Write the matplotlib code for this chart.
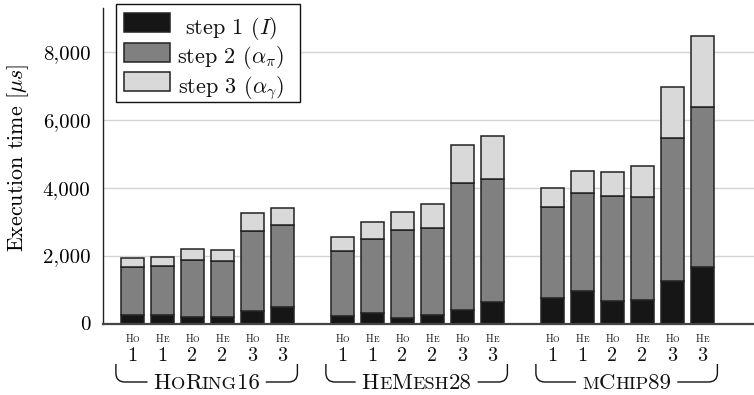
import matplotlib
matplotlib.use("Agg")
import matplotlib.pyplot as plt
import numpy as np
from matplotlib.path import Path
from matplotlib.patches import PathPatch, Rectangle
from matplotlib.ticker import FuncFormatter, MultipleLocator
from matplotlib import transforms

plt.rcParams['font.family'] = ['cmr10', 'DejaVu Serif']
plt.rcParams['mathtext.fontset'] = 'cm'
plt.rcParams['axes.formatter.use_mathtext'] = True

# ---- data ----
groups = ["HoRing16", "HeMesh28", "mChip89"]
bar_kinds = ["Ho", "He", "Ho", "He", "Ho", "He"]
bar_nums = ["1", "1", "2", "2", "3", "3"]
series_labels = [r"step 1 $(I)$", r"step 2 $(\alpha_\pi)$", r"step 3 $(\alpha_\gamma)$"]

step1 = [240, 250, 191, 191, 378, 495,
         231, 319, 172, 260, 407, 633,
         751, 948, 671, 692, 1260, 1663]
step2 = [1415, 1434, 1678, 1649, 2355, 2405,
         1913, 2178, 2571, 2561, 3739, 3611,
         2679, 2903, 3074, 3041, 4192, 4710]
step3 = [265, 273, 333, 315, 520, 500,
         393, 482, 549, 687, 1109, 1276,
         568, 647, 715, 912, 1519, 2099]

colors = ["#161616", "#808080", "#d9d9d9"]

W, H = 754, 395
fig = plt.figure(figsize=(W / 100, H / 100), dpi=100)
ax = fig.add_axes([103 / W, 1 - 323.5 / H, 1 - 103 / W, (323.5 - 8) / H])

n_per = len(bar_kinds)
xpos = np.array([g * (n_per + 1) + i for g in range(len(groups)) for i in range(n_per)], dtype=float)

bottom = np.zeros(len(xpos))
for vals, col in zip([step1, step2, step3], colors):
    v = np.array(vals, dtype=float)
    ax.bar(xpos, v, bottom=bottom, width=0.78, color=col, edgecolor="#222222",
           linewidth=1.1, zorder=3)
    bottom += v

ax.set_xlim(-0.98, 20.72)
ax.set_ylim(0, 9290)
ax.yaxis.set_major_locator(MultipleLocator(2000))
ax.yaxis.set_major_formatter(FuncFormatter(lambda v, p: f"{v:,.0f}"))
ax.grid(axis="y", color="#d4d4d4", linewidth=1.0, zorder=0)
ax.set_xticks([])
ax.tick_params(axis="y", length=0, labelsize=15, pad=9)
for s in ["top", "right"]:
    ax.spines[s].set_visible(False)
ax.spines["left"].set_color("#222222")
ax.spines["left"].set_linewidth(1.0)
ax.spines["bottom"].set_color("#444444")
ax.spines["bottom"].set_linewidth(1.6)
ax.spines["bottom"].set_zorder(4)
ax.set_ylabel(r"Execution time [$\mu s$]", fontsize=15.8)
ax.yaxis.set_label_coords(-0.111, 0.526)

renderer = fig.canvas.get_renderer()
pix = transforms.IdentityTransform()

# legend (drawn as a pgfplots-style box with centred entries)
fig.patches.append(Rectangle((116, H - 102), 184, 98, transform=pix, facecolor="white",
                             edgecolor="#111111", linewidth=1.0, zorder=10))
for i, (lab, col) in enumerate(zip(series_labels, colors)):
    ytop = 13.3 + i * 29.5
    fig.patches.append(Rectangle((123.5, H - ytop - 19), 46.5, 19, transform=pix,
                                 facecolor=col, edgecolor="#222222", linewidth=1.1, zorder=11))
    fig.text(231, H - (ytop + 20.5), lab, fontsize=16, transform=pix, ha="center",
             va="baseline", color="#111111", zorder=12)


def smallcaps(xc, y_img, text, size, ratio=0.78, color="#111111"):
    """Draw text in fake small caps centred at xc (pixels), baseline at y_img (image px)."""
    pieces = []
    for ch in text:
        big = not ch.islower()
        if pieces and pieces[-1][1] == big:
            pieces[-1][0] += ch.upper()
        else:
            pieces.append([ch.upper(), big])
    arts = []
    widths = []
    for s, big in pieces:
        t = fig.text(0, 0, s, fontsize=size if big else size * ratio, transform=pix,
                     va="baseline", ha="left", color=color)
        w = t.get_window_extent(renderer).width
        arts.append(t)
        widths.append(w)
    total = sum(widths)
    x = xc - total / 2
    yd = H - y_img
    for t, w in zip(arts, widths):
        t.set_position((x, yd))
        x += w
    return xc - total / 2, xc + total / 2


# tick labels
for k, x in enumerate(xpos):
    xd = ax.transData.transform((x, 0))[0]
    smallcaps(xd, 342, bar_kinds[k % n_per], 7.4, ratio=0.8)
    fig.text(xd, H - 361, bar_nums[k % n_per], fontsize=14.5, transform=pix,
             ha="center", va="baseline", color="#111111")

# group brackets
for g, name in enumerate(groups):
    x0 = ax.transData.transform((g * (n_per + 1) - 0.55, 0))[0]
    x1 = ax.transData.transform((g * (n_per + 1) + n_per - 1 + 0.5, 0))[0]
    xc = (x0 + x1) / 2
    tl, tr = smallcaps(xc, 389, name, 16.5, ratio=0.8)
    ytop = H - 364
    ybot = H - 382
    r = 9
    gap = 6
    verts = [(x0, ytop), (x0, ybot + r), (x0, ybot), (x0 + r, ybot), (tl - gap, ybot)]
    codes = [Path.MOVETO, Path.LINETO, Path.CURVE3, Path.CURVE3, Path.LINETO]
    fig.patches.append(PathPatch(Path(verts, codes), transform=pix, fill=False,
                                 edgecolor="#111111", linewidth=1.0))
    verts = [(tr + gap, ybot), (x1 - r, ybot), (x1, ybot), (x1, ybot + r), (x1, ytop)]
    codes = [Path.MOVETO, Path.LINETO, Path.CURVE3, Path.CURVE3, Path.LINETO]
    fig.patches.append(PathPatch(Path(verts, codes), transform=pix, fill=False,
                                 edgecolor="#111111", linewidth=1.0))

fig.savefig("out.png", dpi=100)
